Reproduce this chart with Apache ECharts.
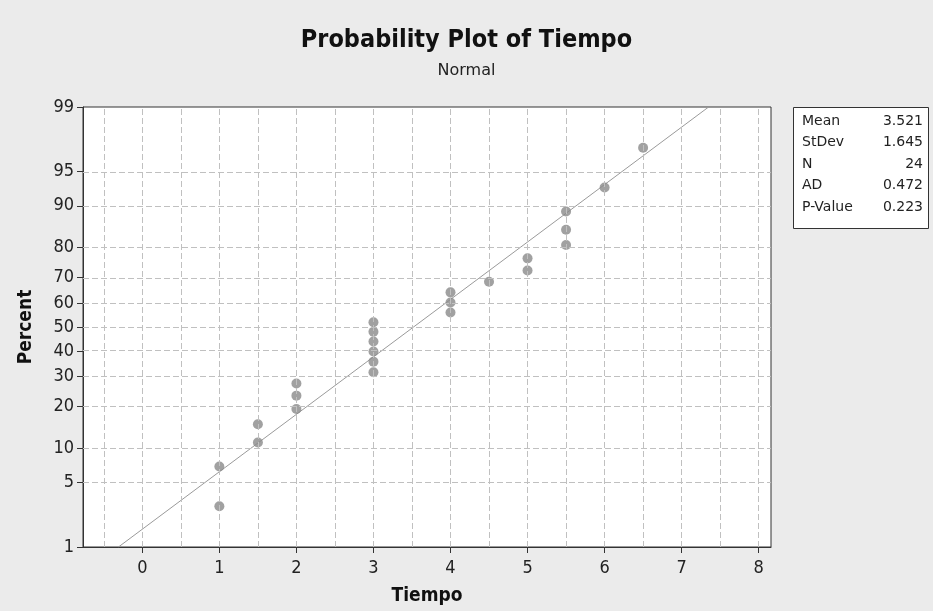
<!DOCTYPE html>
<html>
<head>
<meta charset="utf-8">
<script src="https://cdn.jsdelivr.net/npm/echarts@6/dist/echarts.min.js"></script>
<style>
  html, body { margin: 0; padding: 0; background: #ebebeb; }
  #chart { width: 933px; height: 611px; }
</style>
</head>
<body>
<div id="chart"></div>
<script>
// observed values (Tiempo) and their plotted percent positions
let xVals = [1, 1, 1.5, 1.5, 2, 2, 2, 3, 3, 3, 3, 3, 3, 4, 4, 4, 4.5, 5, 5, 5.5, 5.5, 5.5, 6, 6.5];
let pctVals = [2.9, 7.0, 11.1, 15.2, 19.3, 23.4, 27.5, 31.6, 35.7, 39.8, 43.9, 48.0, 52.0, 56.1, 60.2, 64.3, 68.4, 72.5, 76.6, 80.7, 84.8, 88.9, 93.0, 97.1];
// fitted line end points
let fitX = [-0.31, 7.35];
let fitPct = [1, 99];
// axis ticks
let pctTicks = [1, 5, 10, 20, 30, 40, 50, 60, 70, 80, 90, 95, 99];
let xTicks = [0, 1, 2, 3, 4, 5, 6, 7, 8];
let xGrid = [-0.5, 0, 0.5, 1, 1.5, 2, 2.5, 3, 3.5, 4, 4.5, 5, 5.5, 6, 6.5, 7, 7.5, 8];
// summary table
let statNames = ['Mean', 'StDev', 'N', 'AD', 'P-Value'];
let statValues = ['3.521', '1.645', '24', '0.472', '0.223'];

// inverse normal cdf (Acklam), percent -> z, for the probability scale
function probit(pct) {
    let p = pct / 100;
    let a = [-39.69683028665376, 220.9460984245205, -275.9285104469687, 138.3577518672690, -30.66479806614716, 2.506628277459239];
    let b = [-54.47609879822406, 161.5858368580409, -155.6989798598866, 66.80131188771972, -13.28068155288572];
    let c = [-0.007784894002430293, -0.3223964580411365, -2.400758277161838, -2.549732539343734, 4.374664141464968, 2.938163982698783];
    let d = [0.007784695709041462, 0.3224671290700398, 2.445134137142996, 3.754408661907416];
    let q, r;
    if (p < 0.02425) {
        q = Math.sqrt(-2 * Math.log(p));
        return (((((c[0] * q + c[1]) * q + c[2]) * q + c[3]) * q + c[4]) * q + c[5]) / ((((d[0] * q + d[1]) * q + d[2]) * q + d[3]) * q + 1);
    }
    if (p > 1 - 0.02425) {
        q = Math.sqrt(-2 * Math.log(1 - p));
        return -(((((c[0] * q + c[1]) * q + c[2]) * q + c[3]) * q + c[4]) * q + c[5]) / ((((d[0] * q + d[1]) * q + d[2]) * q + d[3]) * q + 1);
    }
    q = p - 0.5;
    r = q * q;
    return (((((a[0] * r + a[1]) * r + a[2]) * r + a[3]) * r + a[4]) * r + a[5]) * q / (((((b[0] * r + b[1]) * r + b[2]) * r + b[3]) * r + b[4]) * r + 1);
}

let zTicks = pctTicks.map(probit);
let labelOf = {};
pctTicks.forEach(function (p, i) { labelOf[zTicks[i].toFixed(4)] = String(p); });

let font = 'DejaVu Sans Condensed, DejaVu Sans, sans-serif';
let wideFont = 'DejaVu Sans, sans-serif';
let gridDash = { type: [6, 3], color: '#c0c0c0', width: 1 };

let statGraphics = [{
    type: 'rect',
    left: 793, top: 107,
    shape: { width: 135, height: 121 },
    style: { fill: '#ffffff', stroke: '#333333', lineWidth: 1 }
}];
statNames.forEach(function (name, i) {
    statGraphics.push({
        type: 'text', left: 802, top: 114 + i * 21.5,
        style: { text: name, font: '14px ' + wideFont, fill: '#222' }
    });
    statGraphics.push({
        type: 'text', right: 10, top: 114 + i * 21.5,
        style: { text: statValues[i], font: '14px ' + wideFont, fill: '#222', textAlign: 'right' }
    });
});

let option = {
    backgroundColor: '#ebebeb',
    animation: false,
    title: {
        text: 'Probability Plot of Tiempo',
        subtext: 'Normal',
        left: 'center',
        top: 23,
        itemGap: 10,
        textStyle: { fontFamily: font, fontSize: 25, fontWeight: 'bold', color: '#111' },
        subtextStyle: { fontFamily: wideFont, fontSize: 16, color: '#222' }
    },
    grid: {
        left: 83, right: 162, top: 107, bottom: 64,
        show: true,
        backgroundColor: '#ffffff',
        borderColor: '#333333',
        borderWidth: 1
    },
    xAxis: {
        type: 'value',
        min: -0.77,
        max: 8.16,
        name: 'Tiempo',
        nameLocation: 'middle',
        nameGap: 40,
        nameTextStyle: { fontFamily: font, fontSize: 19, fontWeight: 'bold', color: '#111' },
        axisLine: { show: true, onZero: false, lineStyle: { color: '#333' } },
        axisTick: { show: true, length: 6, customValues: xTicks, lineStyle: { color: '#333' } },
        axisLabel: { customValues: xTicks, fontFamily: font, fontSize: 18, color: '#222', margin: 12 },
        splitLine: { show: false }
    },
    yAxis: {
        type: 'value',
        min: probit(1),
        max: probit(99),
        name: 'Percent',
        nameLocation: 'middle',
        nameGap: 47,
        nameRotate: 90,
        nameTextStyle: { fontFamily: font, fontSize: 19, fontWeight: 'bold', color: '#111' },
        axisLine: { show: true, onZero: false, lineStyle: { color: '#333' } },
        axisTick: { show: true, length: 6, customValues: zTicks, lineStyle: { color: '#333' } },
        axisLabel: {
            customValues: zTicks,
            fontFamily: font, fontSize: 18, color: '#222', margin: 9,
            formatter: function (v) { return labelOf[v.toFixed(4)] || ''; }
        },
        splitLine: { show: false }
    },
    graphic: statGraphics,
    series: [
        {
            type: 'line',
            data: [],
            z: 1,
            markLine: {
                silent: true,
                symbol: ['none', 'none'],
                label: { show: false },
                lineStyle: gridDash,
                data: zTicks.slice(1, -1).map(function (z) { return { yAxis: z }; })
                    .concat(xGrid.map(function (v) { return { xAxis: v }; }))
            }
        },
        {
            type: 'line',
            z: 2,
            showSymbol: false,
            lineStyle: { color: '#9a9a9a', width: 1 },
            data: fitX.map(function (x, i) { return [x, probit(fitPct[i])]; })
        },
        {
            type: 'scatter',
            z: 3,
            symbolSize: 10,
            itemStyle: { color: '#8a8a8a' },
            data: xVals.map(function (x, i) { return [x, probit(pctVals[i])]; })
        }
    ]
};

let chart = echarts.init(document.getElementById('chart'));
chart.setOption(option);
</script>
</body>
</html>
